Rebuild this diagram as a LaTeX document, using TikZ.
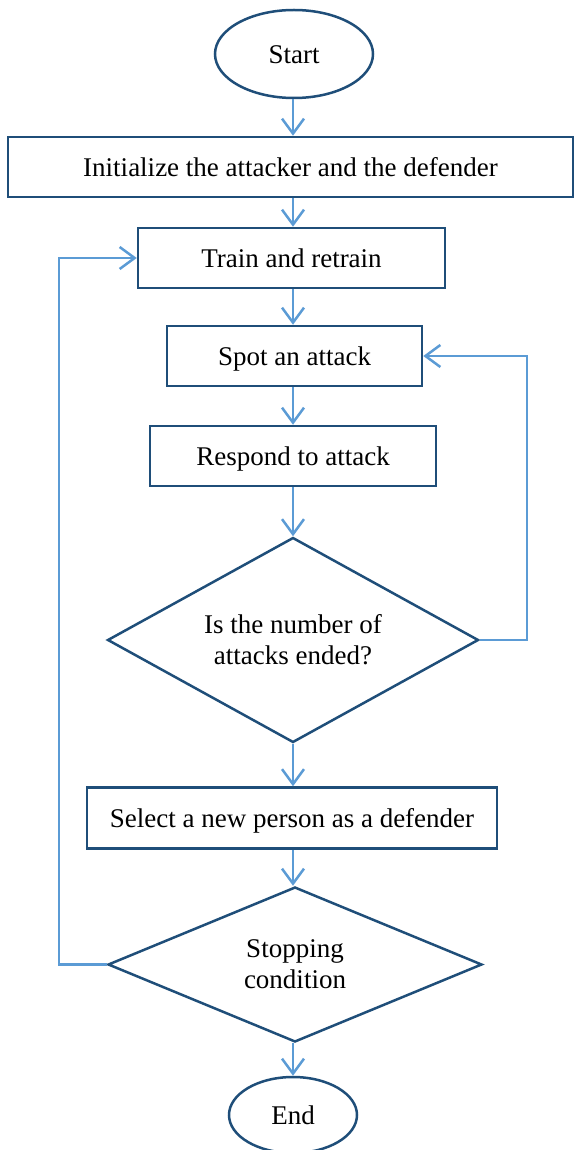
\documentclass[tikz,border=0pt]{standalone}
\usepackage{fontspec}
\setmainfont{Liberation Serif}
\usetikzlibrary{shapes.geometric,arrows.meta}
\definecolor{boxblue}{HTML}{1F4E79}
\definecolor{arrowblue}{HTML}{5B9BD5}
\begin{document}
\begin{tikzpicture}[x=1pt,y=-1pt,
  every node/.style={font=\fontsize{27}{31}\selectfont, text=black, inner sep=0pt, align=center},
  procbox/.style={draw=boxblue, line width=2.5pt, rectangle, minimum height=60pt, text height=26pt, text depth=6.5pt},
  term/.style={draw=boxblue, line width=2.5pt, ellipse, text height=26pt, text depth=6.5pt},
  decis/.style={draw=boxblue, line width=2.5pt, diamond},
  flow/.style={draw=arrowblue, line width=2.5pt, -{Straight Barb[length=15pt,width=22pt]}}]
\useasboundingbox (0,0) rectangle (574,1150);
\node[term, minimum width=158pt, minimum height=88pt] (start) at (294,54) {Start};
\node[procbox, minimum width=565pt] (init) at (290.5,167) {Initialize the attacker and the defender};
\node[procbox, minimum width=307pt] (train) at (291.5,258) {Train and retrain};
\node[procbox, minimum width=255pt] (spot) at (294.5,356) {Spot an attack};
\node[procbox, minimum width=286pt] (resp) at (293,456) {Respond to attack};
\node[decis, shape aspect=1.81, minimum width=371pt, minimum height=205pt] (d1) at (293,640) {Is the number of\\attacks ended?};
\node[procbox, minimum width=410pt, minimum height=61pt] (sel) at (292,818) {Select a new person as a defender};
\node[decis, shape aspect=2.41, minimum width=374pt, minimum height=155pt] (d2) at (295,964.5) {Stopping\\condition};
\node[term, minimum width=128pt, minimum height=76pt] (end) at (293,1115) {End};
\coordinate (rc) at (527,0);
\coordinate (lc) at (59,0);
\draw[flow] (start.south -| 293,0) -- (init.north -| 293,0);
\draw[flow] (init.south -| 293,0) -- (train.north -| 293,0);
\draw[flow] (train.south -| 293,0) -- (spot.north -| 293,0);
\draw[flow] (spot.south -| 293,0) -- (resp.north -| 293,0);
\draw[flow] (resp.south -| 293,0) -- (d1.north -| 293,0);
\draw[flow] (d1.south -| 293,0) -- (sel.north -| 293,0);
\draw[flow] (sel.south -| 293,0) -- (d2.north -| 293,0);
\draw[flow] (d2.south -| 293,0) -- (end.north -| 293,0);
\draw[flow] (d1.east) -- (d1.east -| rc) -- (spot.east -| rc) -- (spot.east);
\draw[flow] (d2.west) -- (d2.west -| lc) -- (train.west -| lc) -- (train.west);
\end{tikzpicture}
\end{document}
